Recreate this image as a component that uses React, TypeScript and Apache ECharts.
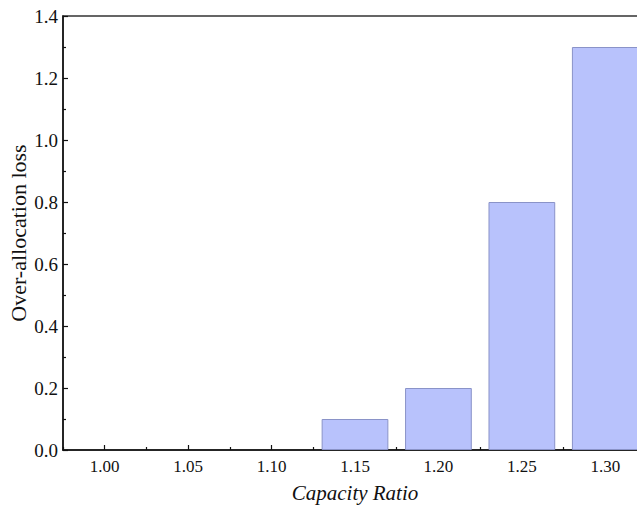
import React, { useEffect, useRef } from "react";
import * as echarts from "echarts";

const categories = ["1.00", "1.05", "1.10", "1.15", "1.20", "1.25", "1.30"];
const lossValues = [0, 0, 0, 0.1, 0.2, 0.8, 1.3];
const yTicks = [0, 0.2, 0.4, 0.6, 0.8, 1.0, 1.2, 1.4];
const yTitle = "Over-allocation loss";
const xTitle = "Capacity Ratio";

export default function App() {
  const ref = useRef<HTMLDivElement>(null);
  useEffect(() => {
    if (!ref.current) return;
    const chart = echarts.init(ref.current, undefined, { renderer: "svg" });
    const font = "Liberation Serif";
    chart.setOption({
      animation: false,
      backgroundColor: "#ffffff",
      grid: {
        left: 63,
        width: 584,
        top: 16,
        height: 434,
        outerBoundsMode: "none",
        containLabel: false,
        show: true,
        borderColor: "#333333",
        borderWidth: 1.5,
        backgroundColor: "transparent",
      },
      graphic: [
        {
          type: "text",
          x: 18,
          y: 233,
          rotation: Math.PI / 2,
          style: {
            text: yTitle,
            fontFamily: font,
            fontSize: 22,
            fill: "#111",
            textAlign: "center",
            textVerticalAlign: "middle",
          },
        },
      ],
      xAxis: [
        {
          type: "category",
          data: categories,
          boundaryGap: true,
          name: xTitle,
          nameLocation: "middle",
          nameGap: 32,
          nameTextStyle: { fontFamily: font, fontSize: 21, fontStyle: "italic", color: "#111" },
          axisLine: { show: true, lineStyle: { color: "#111", width: 1.5 } },
          axisTick: { show: true, alignWithLabel: true, inside: true, length: 5, lineStyle: { color: "#111", width: 1.2 } },
          axisLabel: { fontFamily: font, fontSize: 17, color: "#111", margin: 8 },
          splitLine: { show: false },
        },
        {
          type: "category",
          data: categories,
          boundaryGap: true,
          position: "bottom",
          axisLine: { show: false },
          axisTick: { show: true, inside: true, length: 3, lineStyle: { color: "#111", width: 1.2 } },
          axisLabel: { show: false },
          splitLine: { show: false },
        },
      ],
      yAxis: {
        type: "value",
        min: 0,
        max: 1.4,
        interval: 0.2,
        axisLine: { show: true, lineStyle: { color: "#111", width: 1.5 } },
        axisTick: { show: true, inside: true, length: 5, lineStyle: { color: "#111", width: 1.2 } },
        minorTick: { show: true, splitNumber: 2, length: 3, lineStyle: { color: "#111", width: 1.2 } },
        axisLabel: {
          fontFamily: font,
          fontSize: 19,
          color: "#111",
          margin: 5,
          formatter: (v: number) => {
            const t = yTicks.find((x) => Math.abs(x - v) < 1e-9);
            return (t !== undefined ? t : v).toFixed(1);
          },
        },
        splitLine: { show: false },
      },
      series: [
        {
          type: "bar",
          data: lossValues.map((v) => (v === 0 ? { value: v, itemStyle: { borderWidth: 0 } } : v)),
          barWidth: "80%",
          itemStyle: { color: "#b8c2fc", borderColor: "#8a93c8", borderWidth: 1 },
        },
      ],
    });
    return () => chart.dispose();
  }, []);
  return <div ref={ref} style={{ width: 637, height: 508, position: "absolute", left: 0, top: 0 }} />;
}
